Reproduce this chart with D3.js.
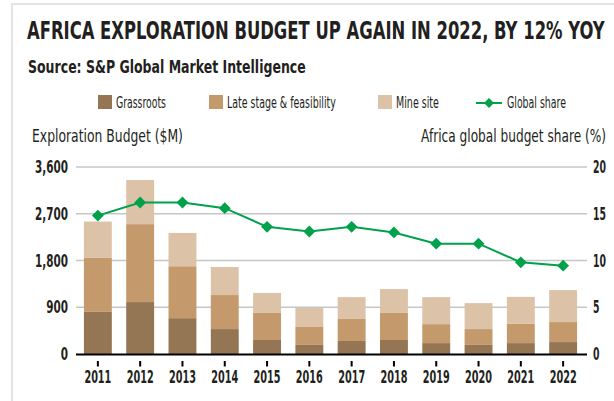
<!DOCTYPE html>
<html lang="en">
<head>
    <title>Africa exploration budget</title>
    <script src="https://d3js.org/d3.v7.min.js"></script>
    <style>
        body { margin: 0; background: #fff; }
        text { font-family: "DejaVu Sans Condensed", "Liberation Sans Narrow", sans-serif; fill: #231f20; }
    </style>
</head>
<body>

<script>
    const years = ["2011","2012","2013","2014","2015","2016","2017","2018","2019","2020","2021","2022"];
    const grassroots = [810, 1000, 690, 480, 270, 175, 250, 270, 210, 175, 210, 230];
    const lateStage = [1040, 1500, 1000, 655, 520, 345, 425, 520, 365, 305, 370, 385];
    const mineSite = [700, 850, 640, 540, 385, 365, 420, 460, 520, 500, 520, 615];
    const globalShare = [14.8, 16.2, 16.2, 15.6, 13.6, 13.1, 13.6, 13.0, 11.8, 11.8, 9.8, 9.45];
    const leftTicks = [0, 900, 1800, 2700, 3600];
    const rightTicks = [0, 5, 10, 15, 20];
    const seriesNames = ["Grassroots", "Late stage & feasibility", "Mine site"];
    const colors = ["#957654", "#c49a6c", "#dcc3a8"];
    const green = "#00a14b";

    const W = 614, H = 401;
    const plotLeft = 76, plotRight = 587, plotTop = 167, plotBottom = 354;

    const svg = d3.select("body").append("svg").attr("width", W).attr("height", H);

    // narrow the texts horizontally (no condensed font installed), scaling around their anchor
    function squeeze(sel, k) {
        sel.each(function() {
            const t = d3.select(this);
            const tx = +t.attr("x"), ty = +t.attr("y");
            t.attr("x", 0).attr("y", 0).attr("transform", `translate(${tx},${ty}) scale(${k},1)`);
        });
    }
    function natural(sel) { return sel.node().getComputedTextLength(); }

    // frame
    svg.append("path").attr("d", `M12,${H} V4 H${W}`)
            .attr("fill", "none").attr("stroke", "#e4e4e4").attr("stroke-width", 2);

    const title = svg.append("text").attr("x", 27).attr("y", 39)
            .attr("font-size", 25).attr("font-weight", "bold")
            .text("AFRICA EXPLORATION BUDGET UP AGAIN IN 2022, BY 12% YOY");
    squeeze(title, 578 / natural(title));
    const sub = svg.append("text").attr("x", 28).attr("y", 73)
            .attr("font-size", 18).attr("font-weight", "600")
            .text("Source: S&P Global Market Intelligence");
    squeeze(sub, 278 / natural(sub));

    const x = d3.scaleBand().domain(years).range([76, 585]).paddingInner(0.34).paddingOuter(0.187);
    const y = d3.scaleLinear().domain([0, 3600]).range([plotBottom, plotTop]);
    const y2 = d3.scaleLinear().domain([0, 20]).range([plotBottom, plotTop]);

    // grid
    svg.append("g").selectAll("line").data(leftTicks.slice(1)).join("line")
            .attr("x1", plotLeft).attr("x2", plotRight)
            .attr("y1", d => y(d)).attr("y2", d => y(d))
            .attr("stroke", "#c6c6c6").attr("stroke-width", 1.3);

    const table = years.map((yr, i) => ({year: yr, g: grassroots[i], l: lateStage[i], m: mineSite[i]}));
    const stacked = d3.stack().keys(["g", "l", "m"])(table);

    svg.append("g").selectAll("g").data(stacked).join("g")
            .attr("fill", (d, i) => colors[i])
            .selectAll("rect").data(d => d).join("rect")
            .attr("x", d => x(d.data.year))
            .attr("y", d => y(d[1]))
            .attr("width", x.bandwidth())
            .attr("height", d => y(d[0]) - y(d[1]));

    // baseline
    svg.append("line").attr("x1", plotLeft).attr("x2", plotRight).attr("y1", plotBottom + 0.5).attr("y2", plotBottom + 0.5)
            .attr("stroke", "#000").attr("stroke-width", 2);

    // x ticks and labels
    const xg = svg.append("g");
    xg.selectAll("line").data(years).join("line")
            .attr("x1", d => x(d) + x.bandwidth() / 2).attr("x2", d => x(d) + x.bandwidth() / 2)
            .attr("y1", 361).attr("y2", 366.5)
            .attr("stroke", "#000").attr("stroke-width", 2);
    const yearLabels = xg.selectAll("text").data(years).join("text")
            .attr("x", d => x(d) + x.bandwidth() / 2).attr("y", 383)
            .attr("text-anchor", "middle").attr("font-size", 17).attr("font-weight", "600")
            .text(d => d);
    squeeze(yearLabels, 27 / natural(yearLabels));

    // left axis labels
    const leftLabels = svg.append("g").selectAll("text").data(leftTicks).join("text")
            .attr("x", 68).attr("y", d => y(d) + 6)
            .attr("text-anchor", "end").attr("font-size", 17).attr("font-weight", "600")
            .text(d => d3.format(",")(d));
    squeeze(leftLabels, 33 / leftLabels.nodes()[4].getComputedTextLength());
    // right axis labels
    const rightLabels = svg.append("g").selectAll("text").data(rightTicks).join("text")
            .attr("x", 593).attr("y", d => y2(d) + 6)
            .attr("font-size", 17).attr("font-weight", "600")
            .text(d => d);
    squeeze(rightLabels, 13 / rightLabels.nodes()[4].getComputedTextLength());

    const t1 = svg.append("text").attr("x", 32).attr("y", 142).attr("font-size", 18).attr("fill", "#333")
            .text("Exploration Budget ($M)");
    squeeze(t1, 151 / natural(t1));
    const t2 = svg.append("text").attr("x", 606).attr("y", 142).attr("font-size", 18).attr("text-anchor", "end")
            .text("Africa global budget share (%)");
    squeeze(t2, 185 / natural(t2));

    // global share line
    const line = d3.line().x((d, i) => x(years[i]) + x.bandwidth() / 2).y(d => y2(d));
    svg.append("path").datum(globalShare).attr("d", line)
            .attr("fill", "none").attr("stroke", green).attr("stroke-width", 2);
    svg.append("g").selectAll("path").data(globalShare).join("path")
            .attr("d", d3.symbol(d3.symbolSquare, 70))
            .attr("transform", (d, i) => `translate(${x(years[i]) + x.bandwidth() / 2},${y2(d)}) rotate(45)`)
            .attr("fill", green);

    // legend
    const lg = svg.append("g");
    const legX = [98, 209, 378];
    const legW = [50, 109, 43];
    seriesNames.forEach((name, i) => {
        lg.append("rect").attr("x", legX[i]).attr("y", 95).attr("width", 14).attr("height", 14).attr("fill", colors[i]);
        const t = lg.append("text").attr("x", legX[i] + 18).attr("y", 108).attr("font-size", 15).attr("fill", "#444").text(name);
        squeeze(t, legW[i] / natural(t));
    });
    lg.append("line").attr("x1", 476).attr("x2", 502).attr("y1", 103).attr("y2", 103)
            .attr("stroke", green).attr("stroke-width", 2);
    lg.append("path").attr("d", d3.symbol(d3.symbolSquare, 50))
            .attr("transform", "translate(489,103) rotate(45)").attr("fill", green);
    const gs = lg.append("text").attr("x", 507).attr("y", 108).attr("font-size", 15).attr("fill", "#444").text("Global share");
    squeeze(gs, 59 / natural(gs));
</script>

</body>
</html>
